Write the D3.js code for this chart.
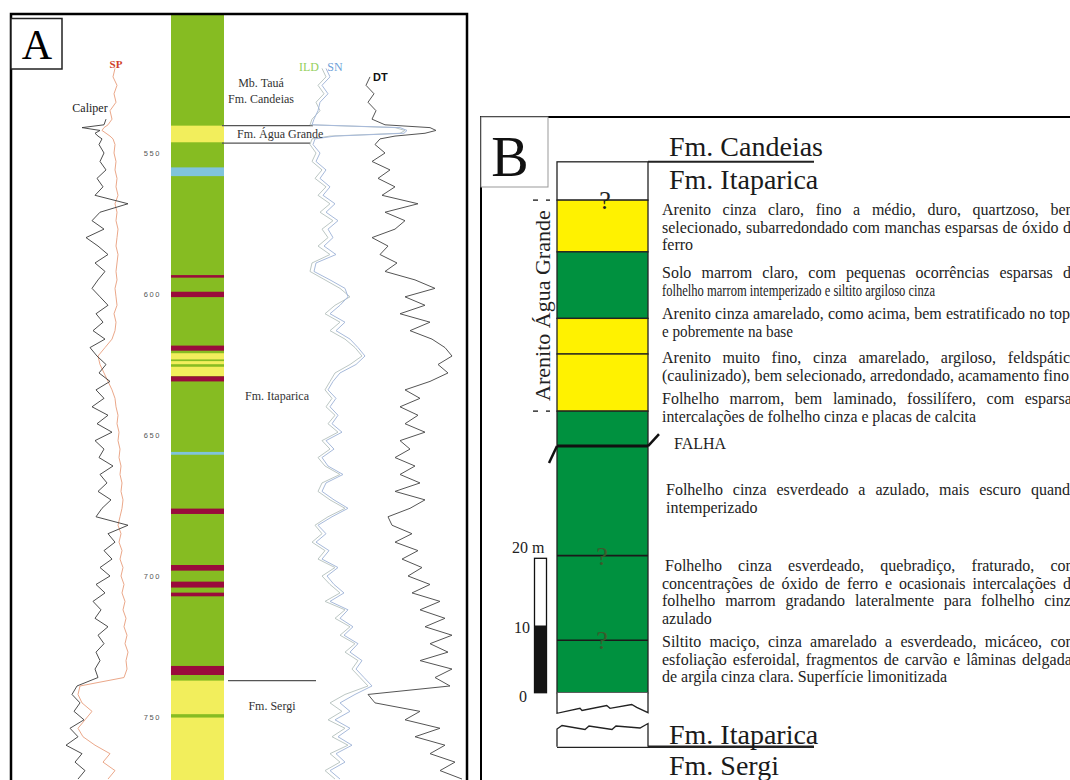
<!DOCTYPE html>
<html>
<head>
<meta charset="utf-8">
<script src="https://cdn.jsdelivr.net/npm/d3@7"></script>
<style>
  body { margin: 0; background: #fff; }
  svg { display: block; }
</style>
</head>
<body>
<svg id="fig" width="1070" height="780"></svg>
<script>
// ---------------- Well (A): depth intervals of the lithology column (m) ----------------
const wellTop   = [540.3, 555.1, 593.3, 599.2, 618.3, 621.0, 623.8, 625.8, 629.2, 656.0, 676.1, 696.1, 702.0, 705.9, 731.9, 737.1, 750.2];
const wellBase  = [546.2, 558.2, 594.2, 601.1, 620.1, 623.2, 624.9, 629.1, 631.0, 657.0, 678.0, 698.1, 704.1, 707.2, 735.1, 749.0, 776.0];
const wellLitho = ["arenito", "calcario", "folhelho", "folhelho", "folhelho", "arenito", "arenito", "arenito", "folhelho",
                   "calcario", "folhelho", "folhelho", "folhelho", "folhelho", "folhelho", "arenito", "arenito"];
const depthTicks = [550, 600, 650, 700, 750];
const formationTops = [540.3, 546.5, 737.1];

// ---------------- Well logs, sampled depth (m) and normalised responses ----------------
const logDepth = [520, 523, 526, 529, 532, 535, 538, 540, 541, 542, 543, 544, 545, 547,
  550, 553, 556, 559, 562, 565, 568, 571, 574, 577, 580, 583, 586, 589, 592, 595, 598, 601, 604, 607,
  610, 613, 616, 619, 622, 625, 628, 631, 634, 637, 640, 643, 646, 649, 652, 655, 658, 661, 664, 667,
  670, 673, 676, 679, 682, 685, 688, 691, 694, 697, 700, 703, 706, 709, 712, 715, 718, 721, 724, 727,
  730, 733, 736, 739, 742, 745, 748, 751, 754, 757, 760, 763, 766, 769, 772];

const spLog = [65, 63, 67, 64, 66, 60, 62, 58, 54, 52, 56, 60, 63, 65,
  64, 66, 65, 67, 66, 68, 65, 67, 66, 68, 67, 66, 68, 67, 66, 67, 65, 66, 67, 64,
  66, 65, 62, 55, 48, 50, 54, 58, 62, 65, 66, 68, 67, 69, 68, 70, 69, 71, 70, 72,
  71, 73, 72, 70, 68, 71, 69, 72, 70, 73, 71, 74, 72, 75, 73, 76, 74, 77, 75, 78,
  76, 77, 74, 30, 28, 32, 42, 35, 28, 33, 45, 60, 53, 65, 58];

const caliperLog = [null, null, null, null, null, null, 56, 54, 32, 50, 45, 48, 52, 49,
  54, 50, 56, 47, 53, 45, 78, 50, 42, 54, 36, 48, 58, 45, 55, 48, 42, 50, 58, 46,
  53, 43, 55, 40, 47, 56, 49, 60, 46, 54, 42, 58, 47, 62, 45, 54, 49, 63, 50, 57,
  48, 61, 52, 46, 78, 58, 65, 54, 62, 50, 60, 46, 55, 43, 51, 45, 58, 48, 54, 46,
  50, 45, 48, 27, 22, 30, 24, 34, 20, 28, 16, 32, 25, 35, 28];

const ildLog = [22, 26, 18, 24, 16, 20, 12, 10, 95, 105, 100, 30, 12, 10,
  16, 12, 22, 15, 26, 18, 30, 20, 33, 22, 28, 18, 30, 12, 10, 25, 40, 50, 35, 25,
  40, 30, 45, 55, 62, 50, 35, 30, 25, 32, 26, 35, 28, 38, 22, 30, 18, 25, 40, 22,
  18, 30, 45, 28, 15, 22, 12, 25, 18, 35, 22, 30, 40, 25, 45, 35, 50, 40, 55, 45,
  58, 52, 60, 68, 45, 30, 42, 28, 45, 32, 48, 30, 40, 25, 35];

const snLog = [26, 30, 22, 28, 20, 18, 14, 12, 100, 107, 104, 35, 15, 13,
  20, 16, 26, 20, 30, 23, 35, 26, 38, 28, 33, 24, 36, 16, 14, 30, 45, 48, 40, 30,
  45, 36, 50, 58, 65, 56, 40, 33, 28, 36, 30, 38, 32, 42, 26, 34, 22, 28, 43, 26,
  22, 34, 48, 32, 18, 26, 16, 29, 22, 38, 27, 34, 44, 30, 48, 40, 53, 44, 58, 50,
  62, 56, 64, 72, 55, 40, 50, 35, 50, 38, 52, 36, 45, 30, 40];

const dtLog = [null, 20, 16, 24, 18, 26, 22, 35, 80, 86, 75, 45, 30, 25,
  35, 22, 40, 28, 45, 32, 68, 35, 55, 45, 22, 38, 30, 47, 35, 65, 85, 55, 75, 50,
  80, 60, 82, 95, 102, 88, 98, 80, 55, 70, 50, 68, 55, 75, 50, 60, 45, 65, 50, 70,
  45, 75, 60, 38, 42, 62, 45, 68, 52, 72, 58, 80, 62, 90, 70, 95, 75, 102, 80, 98,
  70, 102, 85, 100, 18, 25, 70, 55, 90, 65, 95, 80, 105, 90, 112];

// ---------------- Section (B): stratigraphic height above base (m) ----------------
const sectionTop   = [79.0, 73.3, 65.6, 55.7, 50.4, 41.9];
const sectionBase  = [73.3, 65.6, 55.7, 50.4, 41.9, 0.0];
const sectionLitho = ["coberto", "arenito", "solo", "arenito", "arenito", "folhelho"];
const sectionContacts = [20.4, 7.8];
const uncertainContacts = [73.3, 20.4, 7.8];
const faultHeight = 36.7;
const scaleTicks = [0, 10, 20];

const descParagraphs = [
  ["Arenito cinza claro, fino a médio, duro, quartzoso, bem",
   "selecionado, subarredondado com manchas esparsas de óxido de",
   "ferro"],
  ["Solo marrom claro, com pequenas ocorrências esparsas de",
   "folhelho marrom intemperizado e siltito argiloso cinza"],
  ["Arenito cinza amarelado, como acima, bem estratificado no topo",
   "e pobremente na base"],
  ["Arenito muito fino, cinza amarelado, argiloso, feldspático",
   "(caulinizado), bem selecionado, arredondado, acamamento fino"],
  ["Folhelho marrom, bem laminado, fossilífero, com esparsas",
   "intercalações de folhelho cinza e placas de calcita"],
  ["FALHA"],
  ["Folhelho cinza esverdeado a azulado, mais escuro quando",
   "intemperizado"],
  ["Folhelho cinza esverdeado, quebradiço, fraturado, com",
   "concentrações de óxido de ferro e ocasionais intercalações de",
   "folhelho marrom gradando lateralmente para folhelho cinza",
   "azulado"],
  ["Siltito maciço, cinza amarelado a esverdeado, micáceo, com",
   "esfoliação esferoidal, fragmentos de carvão e lâminas delgadas",
   "de argila cinza clara. Superfície limonitizada"]
];

// ---------------- drawing ----------------
const SERIF = "'Liberation Serif', 'Times New Roman', serif";
const SANS = "'Liberation Sans', Arial, sans-serif";
const svg = d3.select("#fig");
svg.append("rect").attr("width", 1070).attr("height", 780).attr("fill", "#fff");

// ===== Panel A =====
const gA = svg.append("g");
const yA = d3.scaleLinear().domain([550, 750]).range([153, 717]);
const colA = { x0: 171, x1: 224 };
const wellColor = { siltito: "#86bc22", arenito: "#f2ee5c", folhelho: "#9a0b3c", calcario: "#80c4dc" };

svg.append("defs").append("clipPath").attr("id", "clipA")
  .append("rect").attr("x", 12).attr("y", 15).attr("width", 454).attr("height", 770);

const colG = gA.append("g").attr("clip-path", "url(#clipA)");
colG.append("rect")
  .attr("x", colA.x0).attr("width", colA.x1 - colA.x0)
  .attr("y", yA(495)).attr("height", yA(780) - yA(495))
  .attr("fill", wellColor.siltito);
colG.selectAll("rect.bed").data(wellTop.map((t, i) => ({ t, b: wellBase[i], l: wellLitho[i] })))
  .join("rect").attr("class", "bed")
  .attr("x", colA.x0).attr("width", colA.x1 - colA.x0)
  .attr("y", d => yA(d.t)).attr("height", d => yA(d.b) - yA(d.t))
  .attr("fill", d => wellColor[d.l]);

// depth labels
const axA = gA.append("g").attr("transform", "translate(161,0)")
  .call(d3.axisLeft(yA).tickValues(depthTicks).tickSize(0).tickPadding(0).tickFormat(d3.format("d")));
axA.select(".domain").remove();
axA.selectAll("text").attr("font-family", SANS).attr("font-size", 7.5)
  .attr("letter-spacing", "1.6px").attr("fill", "#555");

// formation contacts
const contactSpan = [[222, 313], [222, 310], [228, 316]];
gA.selectAll("line.fm").data(formationTops).join("line").attr("class", "fm")
  .attr("x1", (d, i) => contactSpan[i][0]).attr("x2", (d, i) => contactSpan[i][1])
  .attr("y1", d => yA(d)).attr("y2", d => yA(d))
  .attr("stroke", "#555").attr("stroke-width", 1.3);

// logs
const xLeft = d3.scaleLinear().domain([0, 100]).range([50, 150]);
const xRes = d3.scaleLinear().domain([0, 100]).range([300, 400]);
const xDt = d3.scaleLinear().domain([0, 120]).range([350, 470]);
const logG = gA.append("g").attr("clip-path", "url(#clipA)").attr("fill", "none");
function drawLog(values, xs, color, width) {
  const line = d3.line()
    .defined(d => d.v !== null)
    .x(d => xs(d.v)).y(d => yA(d.d));
  logG.append("path")
    .datum(logDepth.map((d, i) => ({ d, v: values[i] })))
    .attr("d", line).attr("stroke", color).attr("stroke-width", width)
    .attr("stroke-linejoin", "round");
}
drawLog(spLog, xLeft, "#eba88a", 1);
drawLog(caliperLog, xLeft, "#3a3a3a", 0.9);
drawLog(ildLog, xRes, "#bcc7c4", 1);
drawLog(snLog, xRes, "#a7badb", 1);
drawLog(dtLog, xDt, "#555", 1);

// log headers
const hdr = [
  { t: "SP", x: 116, y: 68, c: "#d0412a", f: SERIF, s: 11, w: "bold", a: "middle" },
  { t: "Caliper", x: 90, y: 112, c: "#222", f: SERIF, s: 12, w: "normal", a: "middle" },
  { t: "ILD", x: 309, y: 71, c: "#93cf5c", f: SERIF, s: 12, w: "normal", a: "middle" },
  { t: "SN", x: 335, y: 71, c: "#6f9fd8", f: SERIF, s: 12, w: "normal", a: "middle" },
  { t: "DT", x: 373, y: 81, c: "#111", f: SANS, s: 11, w: "bold", a: "start" }
];
gA.selectAll("text.hdr").data(hdr).join("text").attr("class", "hdr")
  .attr("x", d => d.x).attr("y", d => d.y).attr("fill", d => d.c)
  .attr("font-family", d => d.f).attr("font-size", d => d.s).attr("font-weight", d => d.w)
  .attr("text-anchor", d => d.a).text(d => d.t);

// formation names
const fmLabels = [
  { t: "Mb. Tauá", x: 261, y: 87, a: "middle" },
  { t: "Fm. Candeias", x: 261, y: 103, a: "middle" },
  { t: "Fm. Água Grande", x: 237, y: 138, a: "start" },
  { t: "Fm. Itaparica", x: 277, y: 400, a: "middle" },
  { t: "Fm. Sergi", x: 272, y: 710, a: "middle" }
];
gA.selectAll("text.fmn").data(fmLabels).join("text").attr("class", "fmn")
  .attr("x", d => d.x).attr("y", d => d.y).attr("text-anchor", d => d.a)
  .attr("font-family", SERIF).attr("font-size", 12).attr("fill", "#333").text(d => d.t);

// frame and panel letter
gA.append("rect").attr("x", 11).attr("y", 14).attr("width", 456).attr("height", 800)
  .attr("fill", "none").attr("stroke", "#000").attr("stroke-width", 2.5);
gA.append("rect").attr("x", 11).attr("y", 18.5).attr("width", 51).attr("height", 50.5)
  .attr("fill", "#fff").attr("stroke", "#222").attr("stroke-width", 1.5);
gA.append("text").attr("x", 37).attr("y", 59).attr("text-anchor", "middle")
  .attr("font-family", SERIF).attr("font-size", 42).attr("fill", "#000").text("A");

// ===== Panel B =====
const gB = svg.append("g");
const yB = d3.scaleLinear().domain([0, 20]).range([692.7, 558.3]);
const colB = { x0: 557, x1: 648 };
const secColor = { coberto: "#fff", arenito: "#fff200", solo: "#00913f", folhelho: "#00913f" };

gB.append("rect").attr("x", 481).attr("y", 117).attr("width", 700).attr("height", 800)
  .attr("fill", "#fff").attr("stroke", "#000").attr("stroke-width", 2);
gB.append("rect").attr("x", 481).attr("y", 117).attr("width", 67).attr("height", 70)
  .attr("fill", "#fff").attr("stroke", "#999").attr("stroke-width", 1);
gB.append("text").attr("x", 510).attr("y", 176).attr("text-anchor", "middle")
  .attr("font-family", SERIF).attr("font-size", 56).attr("fill", "#111").text("B");

gB.selectAll("rect.layer").data(sectionTop.map((t, i) => ({ t, b: sectionBase[i], l: sectionLitho[i] })))
  .join("rect").attr("class", "layer")
  .attr("x", colB.x0).attr("width", colB.x1 - colB.x0)
  .attr("y", d => yB(d.t)).attr("height", d => yB(d.b) - yB(d.t))
  .attr("fill", d => secColor[d.l]).attr("stroke", "#222").attr("stroke-width", 1.3);

gB.selectAll("line.contact").data(sectionContacts).join("line").attr("class", "contact")
  .attr("x1", colB.x0).attr("x2", colB.x1).attr("y1", d => yB(d)).attr("y2", d => yB(d))
  .attr("stroke", "#1a1a1a").attr("stroke-width", 1.6);

// fault
const yF = yB(faultHeight);
gB.append("line").attr("x1", colB.x0).attr("x2", colB.x1).attr("y1", yF).attr("y2", yF)
  .attr("stroke", "#111").attr("stroke-width", 3);
gB.append("line").attr("x1", colB.x0 - 8).attr("y1", yF + 17).attr("x2", colB.x0).attr("y2", yF)
  .attr("stroke", "#111").attr("stroke-width", 2.5);
gB.append("line").attr("x1", colB.x1).attr("y1", yF).attr("x2", colB.x1 + 11).attr("y2", yF - 12)
  .attr("stroke", "#111").attr("stroke-width", 2.5);

// uncertain contacts
gB.selectAll("text.q").data(uncertainContacts).join("text").attr("class", "q")
  .attr("x", (d, i) => i === 0 ? 605 : 602).attr("y", d => yB(d) + 9)
  .attr("text-anchor", "middle").attr("font-family", SERIF).attr("font-size", 26)
  .attr("fill", (d, i) => i === 0 ? "#222" : "#3b5a2c").text("?");

// formation boundaries
gB.append("line").attr("x1", colB.x1).attr("x2", 814).attr("y1", yB(79)).attr("y2", yB(79))
  .attr("stroke", "#222").attr("stroke-width", 2);
gB.append("line").attr("x1", colB.x0).attr("x2", 814).attr("y1", 746.7).attr("y2", 746.7)
  .attr("stroke", "#222").attr("stroke-width", 2.5);

// covered interval below the section (break symbols)
gB.append("path").attr("fill", "#fff").attr("stroke", "#222").attr("stroke-width", 1.3)
  .attr("d", `M${colB.x0},692.7 L${colB.x0},713.3 L580,708.3 L582,710.5 L606.7,705.5 L610,708.3 L631.7,704.5 L636.7,707.3 L${colB.x1},712.7 L${colB.x1},692.7`);
gB.append("path").attr("fill", "#fff").attr("stroke", "#222").attr("stroke-width", 1.3)
  .attr("d", `M${colB.x0},746.7 L${colB.x0},729 L562,725.5 L585,729.5 L589,726 L612,729.5 L616,726 L640,728 L${colB.x1},723.5 L${colB.x1},746.7`);

// formation names in B
const fmB = [
  { t: "Fm. Candeias", y: 156 }, { t: "Fm. Itaparica", y: 189 },
  { t: "Fm. Itaparica", y: 744 }, { t: "Fm. Sergi", y: 775 }
];
gB.selectAll("text.fmb").data(fmB).join("text").attr("class", "fmb")
  .attr("x", 669).attr("y", d => d.y).attr("font-family", SERIF).attr("font-size", 28)
  .attr("fill", "#1a1a1a").text(d => d.t);

// unit bracket
gB.append("text").attr("transform", `translate(550,${(yB(73.3) + yB(41.9)) / 2}) rotate(-90)`)
  .attr("text-anchor", "middle").attr("font-family", SERIF).attr("font-size", 22)
  .attr("fill", "#222").text("Arenito Água Grande");
[73.3, 41.9].forEach(h => {
  [[533, 538], [546, 550]].forEach(([a, b]) => {
    gB.append("line").attr("x1", a).attr("x2", b).attr("y1", yB(h)).attr("y2", yB(h))
      .attr("stroke", "#333").attr("stroke-width", 1.5);
  });
});

// scale bar
gB.append("rect").attr("x", 534.5).attr("width", 12).attr("y", yB(20)).attr("height", yB(0) - yB(20))
  .attr("fill", "#fff").attr("stroke", "#111").attr("stroke-width", 1.3);
gB.append("rect").attr("x", 534.5).attr("width", 12).attr("y", yB(10)).attr("height", yB(0) - yB(10))
  .attr("fill", "#141414");
gB.selectAll("text.sc").data(scaleTicks).join("text").attr("class", "sc")
  .attr("x", d => d === 20 ? 512 : (d === 10 ? 530 : 527))
  .attr("y", d => yB(d) + (d === 20 ? -5 : (d === 10 ? 7 : 9)))
  .attr("text-anchor", d => d === 20 ? "start" : "end")
  .attr("font-family", SERIF).attr("font-size", 16).attr("fill", "#222")
  .text(d => d === 20 ? "20 m" : String(d));

// lithological descriptions
const descG = gB.append("g").attr("font-family", SERIF).attr("font-size", 16).attr("fill", "#222");
const justifyEnd = 1078;
const lineGap = 17.5;
const paraLayout = [
  { x: 662, y: 215, fit: ["J", "J", "N"] },
  { x: 662, y: 278, fit: ["J", 935] },
  { x: 662, y: 319, fit: ["J", 793] },
  { x: 662, y: 363, fit: ["J", 1069] },
  { x: 662, y: 404, fit: ["J", 976] },
  { x: 674, y: 449, fit: ["N"] },
  { x: 666, y: 495, fit: ["J", "N"] },
  { x: 662, y: 571, fit: ["J", "J", "J", "N"], firstX: 665 },
  { x: 662, y: 647, fit: ["J", "J", 947] }
];
function measure(str) {
  const t = descG.append("text").text(str);
  const w = t.node().getComputedTextLength();
  t.remove();
  return w;
}
descParagraphs.forEach((lines, p) => {
  const L = paraLayout[p];
  lines.forEach((str, i) => {
    const x = (i === 0 && L.firstX) ? L.firstX : L.x;
    const y = L.y + i * lineGap;
    const mode = L.fit[i];
    const t = descG.append("text").attr("x", x).attr("y", y);
    if (mode === "J") {
      const words = str.split(" ");
      const widths = words.map(measure);
      const gap = (justifyEnd - x - d3.sum(widths)) / (words.length - 1);
      let cx = x;
      words.forEach((w, k) => {
        t.append("tspan").attr("x", cx).text(w);
        cx += widths[k] + gap;
      });
    } else if (typeof mode === "number") {
      t.text(str).attr("textLength", mode - x).attr("lengthAdjust", "spacingAndGlyphs");
    } else {
      t.text(str);
    }
  });
});
</script>
</body>
</html>
